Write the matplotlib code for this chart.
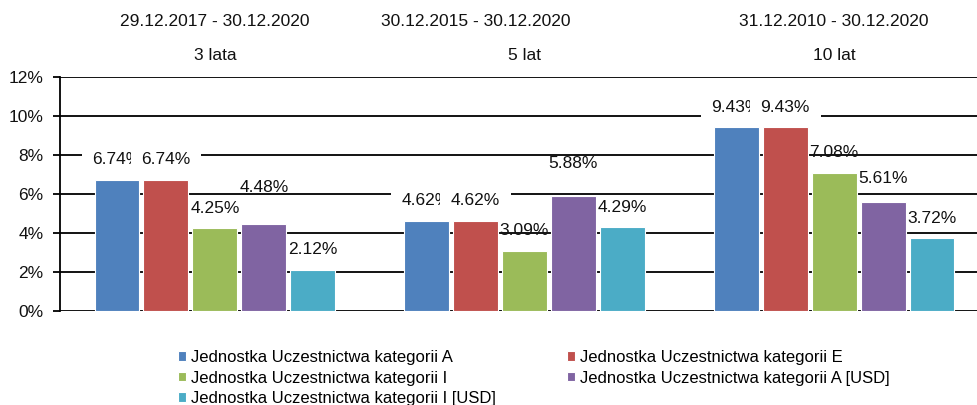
import matplotlib
matplotlib.use("Agg")
import matplotlib.pyplot as plt
import matplotlib.transforms as mtransforms
import numpy as np

plt.rcParams['font.family'] = ['Liberation Sans', 'DejaVu Sans']

periods = ["29.12.2017 - 30.12.2020", "30.12.2015 - 30.12.2020", "31.12.2010 - 30.12.2020"]
period_names = ["3 lata", "5 lat", "10 lat"]
series_names = [
    "Jednostka Uczestnictwa kategorii A",
    "Jednostka Uczestnictwa kategorii E",
    "Jednostka Uczestnictwa kategorii I",
    "Jednostka Uczestnictwa kategorii A [USD]",
    "Jednostka Uczestnictwa kategorii I [USD]",
]
cat_A = [6.74, 4.62, 9.43]
cat_E = [6.74, 4.62, 9.43]
cat_I = [4.25, 3.09, 7.08]
cat_A_usd = [4.48, 5.88, 5.61]
cat_I_usd = [2.12, 4.29, 3.72]
y_ticks = [0, 2, 4, 6, 8, 10, 12]

series_values = [cat_A, cat_E, cat_I, cat_A_usd, cat_I_usd]
colors = ["#4F81BD", "#C0504D", "#9BBB59", "#8064A2", "#4BACC6"]
label_boxed = [True, True, False, False, False]
# extra vertical lift (px) of value labels, per series per group
label_lift = [[0, 0, 0], [0, 0, 0], [0, 0, 0], [16, 13, 3], [0, 0, 0]]

W, H = 977, 405
fig = plt.figure(figsize=(W / 100, H / 100), dpi=100)
ax = fig.add_axes([60 / W, 1 - 311 / H, 929 / W, 234 / H])

x = np.arange(len(periods))
step = 0.158
width = 0.145
fs = 12.5

for i, (vals, col) in enumerate(zip(series_values, colors)):
    xs = x + (i - 2) * step
    ax.bar(xs, vals, width=width, color=col, edgecolor="white", linewidth=0.8,
           zorder=3, label=series_names[i])
    for j, (xx, v) in enumerate(zip(xs, vals)):
        off = (20 + label_lift[i][j]) * 72 / 100
        kw = {}
        if label_boxed[i]:
            kw["bbox"] = dict(boxstyle="square,pad=0.62", facecolor="white", edgecolor="none")
        ax.annotate(f"{v:.2f}%", (xx, v), xytext=(0, off), textcoords="offset points",
                    ha="center", va="center", fontsize=fs, color="#111111",
                    zorder=5 + i, **kw)

ax.set_xlim(-0.5, 2.5)
ax.set_ylim(0, 12)
ax.set_yticks(y_ticks)
ax.set_yticklabels([f"{t}%" for t in y_ticks], fontsize=fs, color="#111111")
ax.set_xticks([])
ax.yaxis.grid(True, color="black", linewidth=1.3, zorder=0)
ax.set_axisbelow(True)
for s in ["top", "right", "bottom"]:
    ax.spines[s].set_visible(False)
ax.spines["left"].set_linewidth(1.3)
ax.tick_params(axis="y", direction="out", length=5, width=1.3, pad=7)

trans = mtransforms.blended_transform_factory(ax.transData, fig.transFigure)
period_shift = [0, -step, 0]
for j in range(len(periods)):
    fig.text(x[j] + period_shift[j], 1 - 22 / H, periods[j], transform=trans,
             ha="center", va="center", fontsize=fs, color="#111111")
    fig.text(x[j], 1 - 55 / H, period_names[j], transform=trans,
             ha="center", va="center", fontsize=fs, color="#111111")

handles, labels = ax.get_legend_handles_labels()
order = [0, 2, 4, 1, 3]
fig.legend([handles[k] for k in order], [labels[k] for k in order],
           loc="upper left", bbox_to_anchor=(178 / W, 1 - 350 / H), ncol=2,
           frameon=False, fontsize=12, handlelength=0.5, handleheight=0.5,
           handletextpad=0.3, labelspacing=0.33, columnspacing=4.25,
           borderaxespad=0, borderpad=0)

fig.savefig("out.png", dpi=100)
